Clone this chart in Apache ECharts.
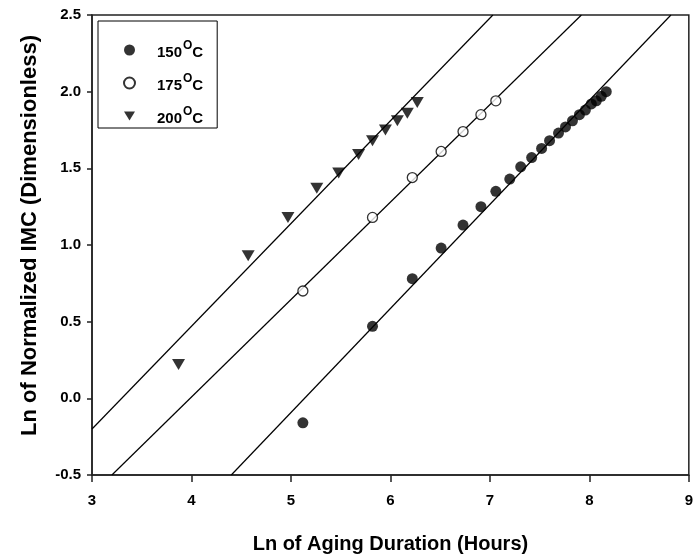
<!DOCTYPE html>
<html>
<head>
    <meta charset="utf-8">
    <title>IMC growth</title>
    <script src="https://cdn.jsdelivr.net/npm/echarts@6/dist/echarts.min.js"></script>
</head>
<body style="margin:0">
<div id="main" style="width: 696px;height:559px;"></div>
<script type="text/javascript">
// values
var x150 = [5.12, 5.82, 6.22, 6.51, 6.73, 6.91, 7.06, 7.20, 7.31, 7.42, 7.52, 7.60, 7.69, 7.76, 7.83, 7.90, 7.96, 8.02, 8.07, 8.12, 8.17];
var y150 = [-0.16, 0.47, 0.78, 0.98, 1.13, 1.25, 1.35, 1.43, 1.51, 1.57, 1.63, 1.68, 1.73, 1.77, 1.81, 1.85, 1.88, 1.92, 1.94, 1.97, 2.00];

var x175 = [5.12, 5.82, 6.22, 6.51, 6.73, 6.91, 7.06];
var y175 = [0.70, 1.18, 1.44, 1.61, 1.74, 1.85, 1.94];

var x200 = [3.87, 4.57, 4.97, 5.26, 5.48, 5.68, 5.82, 5.95, 6.07, 6.17, 6.27];
var y200 = [0.22, 0.93, 1.18, 1.37, 1.47, 1.59, 1.68, 1.75, 1.81, 1.86, 1.93];

// fitted lines, end points where they meet the frame
var fit150 = [[4.40, -0.5], [8.82, 2.5]];
var fit175 = [[3.20, -0.5], [7.92, 2.5]];
var fit200 = [[3.00, -0.2], [7.03, 2.5]];

var legendNames = ['150', '175', '200'];

function pairs(xs, ys) {
    return xs.map(function (x, i) { return [x, ys[i]]; });
}

var font = 'Arial, "Liberation Sans", sans-serif';
var triDown = 'path://M0,0 L12,0 L6,10 Z';

var myChart = echarts.init(document.getElementById('main'));

function fitLine(data) {
    return {
        type: 'line',
        data: data,
        symbol: 'none',
        silent: true,
        z: 1,
        lineStyle: {color: '#000', width: 1.2}
    };
}

myChart.setOption({
    backgroundColor: '#fff',
    animation: false,
    grid: {
        left: 92, right: 3, top: 15, bottom: 82,
        show: true, borderColor: '#222', borderWidth: 1.5
    },
    legend: {
        data: legendNames,
        orient: 'vertical',
        left: 98, top: 21,
        padding: [19, 14, 2, 25],
        itemGap: 13,
        itemWidth: 11, itemHeight: 11,
        borderColor: '#000', borderWidth: 1,
        formatter: function (name) {
            return '{sp|}{n|' + name + '}{sup|O}{n|C}';
        },
        textStyle: {
            rich: {
                sp: {width: 17, lineHeight: 20},
                n: {fontFamily: font, fontWeight: 'bold', fontSize: 15, color: '#000', lineHeight: 20, verticalAlign: 'bottom'},
                sup: {fontFamily: font, fontWeight: 'bold', fontSize: 12, color: '#000', lineHeight: 20, verticalAlign: 'top', padding: [0, 0, 6, 1]}
            }
        }
    },
    xAxis: {
        type: 'value',
        min: 3, max: 9, interval: 1,
        name: 'Ln of Aging Duration (Hours)',
        nameLocation: 'middle',
        nameGap: 59,
        nameTextStyle: {fontFamily: font, fontWeight: 'bold', fontSize: 20, color: '#000'},
        axisLine: {onZero: false, lineStyle: {color: '#222', width: 1.5}},
        axisTick: {length: 7, lineStyle: {color: '#222', width: 1.5}},
        axisLabel: {fontFamily: font, fontWeight: 'bold', fontSize: 15, color: '#000', margin: 18},
        splitLine: {show: false}
    },
    yAxis: {
        type: 'value',
        min: -0.5, max: 2.5, interval: 0.5,
        name: 'Ln of Normalized IMC (Dimensionless)',
        nameLocation: 'middle',
        nameGap: 51,
        nameTextStyle: {fontFamily: font, fontWeight: 'bold', fontSize: 22, color: '#000', padding: [0, 0, 0, 19]},
        axisLine: {onZero: false, lineStyle: {color: '#222', width: 1.5}},
        axisTick: {length: 5, lineStyle: {color: '#222', width: 1.5}},
        axisLabel: {
            fontFamily: font, fontWeight: 'bold', fontSize: 15, color: '#000', margin: 11,
            formatter: function (v) { return v.toFixed(1); }
        },
        splitLine: {show: false}
    },
    series: [
        fitLine(fit150),
        fitLine(fit175),
        fitLine(fit200),
        {
            name: '150',
            type: 'scatter',
            data: pairs(x150, y150),
            symbol: 'circle',
            symbolSize: 11,
            z: 3,
            itemStyle: {color: '#000'}
        },
        {
            name: '175',
            type: 'scatter',
            data: pairs(x175, y175),
            symbol: 'circle',
            symbolSize: 10,
            z: 3,
            itemStyle: {color: '#fff', borderColor: '#000', borderWidth: 1.3}
        },
        {
            name: '200',
            type: 'scatter',
            data: pairs(x200, y200),
            symbol: triDown,
            symbolSize: [13, 11],
            z: 3,
            itemStyle: {color: '#000'}
        }
    ]
});
</script>
</body>
</html>
